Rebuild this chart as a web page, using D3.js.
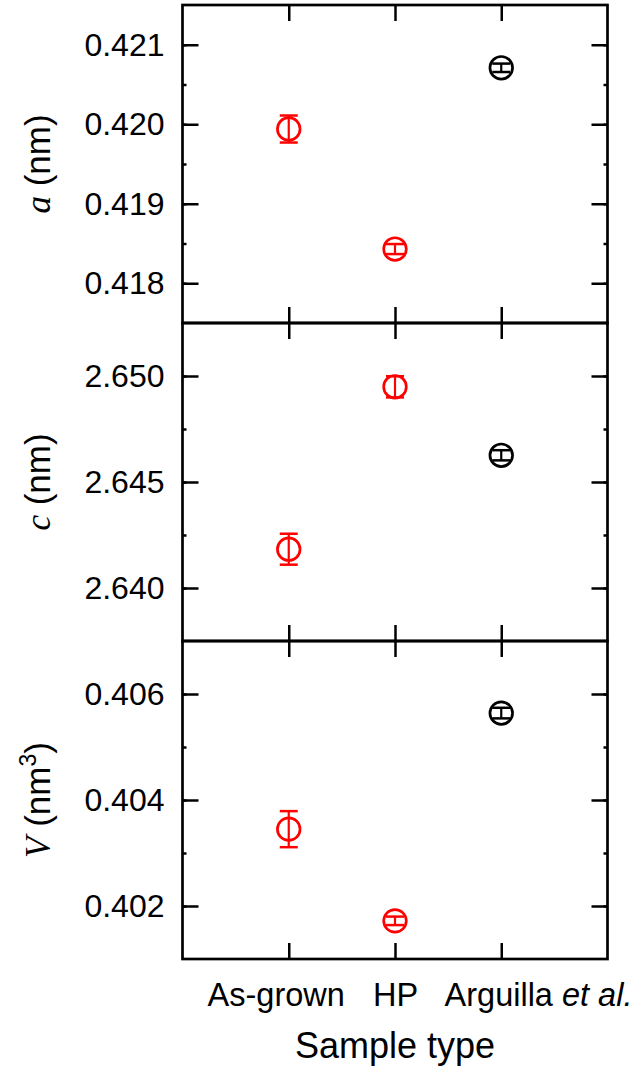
<!DOCTYPE html>
<html>
<head>
<meta charset="utf-8">
<script src="https://cdn.jsdelivr.net/npm/d3@7"></script>
<style>
  body { margin: 0; background: #fff; }
  svg { display: block; font-family: "Liberation Sans", Arial, sans-serif; }
  .axis text { fill: #000; }
  .axis line { stroke: #000; stroke-width: 2.5; }
</style>
</head>
<body>
<div id="chart"></div>
<script>
// sample types on the x axis
var categories = ['As-grown', 'HP', 'Arguilla et al.'];
var pointColors = ['red', 'red', 'black'];

// lattice parameter a (nm)
var aValues = [0.41994, 0.41843, 0.42071];
var aErrors = [0.00017, 0.000063, 0.000053];
var aTicks = [0.418, 0.419, 0.420, 0.421];

// lattice parameter c (nm)
var cValues = [2.64183, 2.64949, 2.64626];
var cErrors = [0.00073, 0.0005, 0.00024];
var cTicks = [2.640, 2.645, 2.650];

// cell volume V (nm^3)
var vValues = [0.40345, 0.40172, 0.40564];
var vErrors = [0.00034, 0.00008, 0.0001];
var vTicks = [0.402, 0.404, 0.406];

var width = 639, height = 1070;
var left = 182.5, right = 607.5;
var panelTop = 5, panelH = 318;

var svg = d3.select('#chart').append('svg')
    .attr('width', width)
    .attr('height', height);

var xScale = d3.scaleLinear().domain([0, 4]).range([left, right]);

var panels = [
    { values: aValues, errors: aErrors, ticks: aTicks, domain: [0.4175, 0.4215], minor: 0.0005, fmt: '.3f', letter: 'a', unit: ' (nm)', sup: '' },
    { values: cValues, errors: cErrors, ticks: cTicks, domain: [2.6375, 2.6525], minor: 0.0025, fmt: '.3f', letter: 'c', unit: ' (nm)', sup: '' },
    { values: vValues, errors: vErrors, ticks: vTicks, domain: [0.401, 0.407], minor: 0.001, fmt: '.3f', letter: 'V', unit: ' (nm', sup: '3' }
];

panels.forEach(function (p, i) {
    var y0 = panelTop + i * panelH;
    var y1 = y0 + panelH;
    var yScale = d3.scaleLinear().domain(p.domain).range([y1, y0]);

    // minor ticks (every half step)
    var minorTicks = d3.range(p.domain[0], p.domain[1] + p.minor / 2, p.minor)
        .filter(function (v) { return v > p.domain[0] + 1e-9 && v < p.domain[1] - 1e-9; });

    svg.append('g').attr('class', 'axis')
        .attr('transform', 'translate(' + left + ',0)')
        .call(d3.axisLeft(yScale).tickValues(minorTicks).tickSize(-4).tickFormat(''));
    svg.append('g').attr('class', 'axis')
        .attr('transform', 'translate(' + right + ',0)')
        .call(d3.axisRight(yScale).tickValues(minorTicks).tickSize(-4).tickFormat(''));

    // major ticks with labels on the left
    svg.append('g').attr('class', 'axis')
        .attr('transform', 'translate(' + left + ',0)')
        .call(d3.axisLeft(yScale).tickValues(p.ticks).tickSize(-16).tickPadding(18).tickFormat(d3.format(p.fmt)))
        .selectAll('text').style('font-size', '32px');
    svg.append('g').attr('class', 'axis')
        .attr('transform', 'translate(' + right + ',0)')
        .call(d3.axisRight(yScale).tickValues(p.ticks).tickSize(-16).tickFormat(''));

    // x ticks top and bottom of each panel
    svg.append('g').attr('class', 'axis')
        .attr('transform', 'translate(0,' + y0 + ')')
        .call(d3.axisTop(xScale).tickValues([1, 2, 3]).tickSize(-16).tickFormat(''));
    var bottomAxis = svg.append('g').attr('class', 'axis')
        .attr('transform', 'translate(0,' + y1 + ')')
        .call(d3.axisBottom(xScale).tickValues([1, 2, 3]).tickSize(-16).tickPadding(23.5)
            .tickFormat(i === 2 ? function (d) { return categories[d - 1]; } : ''));

    if (i === 2) {
        bottomAxis.selectAll('text').style('font-size', '32.5px');
        // first label sits a little left of its tick in the original
        bottomAxis.selectAll('text').filter(function (d) { return d === 1; })
            .attr('dx', -13);
        // "Arguilla" centred on the tick, "et al." in italics after it
        bottomAxis.selectAll('text').filter(function (d) { return d === 3; })
            .each(function () {
                var t = d3.select(this);
                t.text(null);
                t.append('tspan').text('Arguilla ');
                t.append('tspan').style('font-style', 'italic').text('et al.');
                var w = this.getSubStringLength(0, 8);
                t.attr('text-anchor', 'start').attr('x', -w / 2 - 3);
            });
    }

    svg.selectAll('.axis .domain').remove();

    // frame
    svg.append('rect')
        .attr('x', left).attr('y', y0)
        .attr('width', right - left).attr('height', panelH)
        .attr('fill', 'none').attr('stroke', '#000').attr('stroke-width', 2.7);

    // error bars and circles
    var g = svg.append('g');
    p.values.forEach(function (v, k) {
        var cx = xScale(k + 1);
        var top = yScale(v + p.errors[k]), bot = yScale(v - p.errors[k]);
        var col = pointColors[k];
        g.append('line').attr('x1', cx).attr('x2', cx).attr('y1', top).attr('y2', bot)
            .attr('stroke', col).attr('stroke-width', 2.2);
        [top, bot].forEach(function (yy) {
            g.append('line').attr('x1', cx - 9).attr('x2', cx + 9).attr('y1', yy).attr('y2', yy)
                .attr('stroke', col).attr('stroke-width', 2.5);
        });
        g.append('circle').attr('cx', cx).attr('cy', yScale(v)).attr('r', 11.3)
            .attr('fill', 'none').attr('stroke', col).attr('stroke-width', 2.7);
    });

    // y axis title
    var label = svg.append('text')
        .attr('transform', 'translate(50,' + (y0 + panelH / 2) + ') rotate(-90)')
        .attr('text-anchor', 'middle')
        .style('font-size', '35px');
    label.append('tspan')
        .style('font-family', '"Liberation Serif", "Times New Roman", serif')
        .style('font-style', 'italic')
        .text(p.letter);
    label.append('tspan').text(p.unit);
    if (p.sup) {
        label.append('tspan').attr('dy', -14).style('font-size', '23px').text(p.sup);
        label.append('tspan').attr('dy', 14).text(')');
    }
});

// x axis title
svg.append('text')
    .attr('x', (left + right) / 2)
    .attr('y', 1058)
    .attr('text-anchor', 'middle')
    .style('font-size', '36px')
    .text('Sample type');
</script>
</body>
</html>
